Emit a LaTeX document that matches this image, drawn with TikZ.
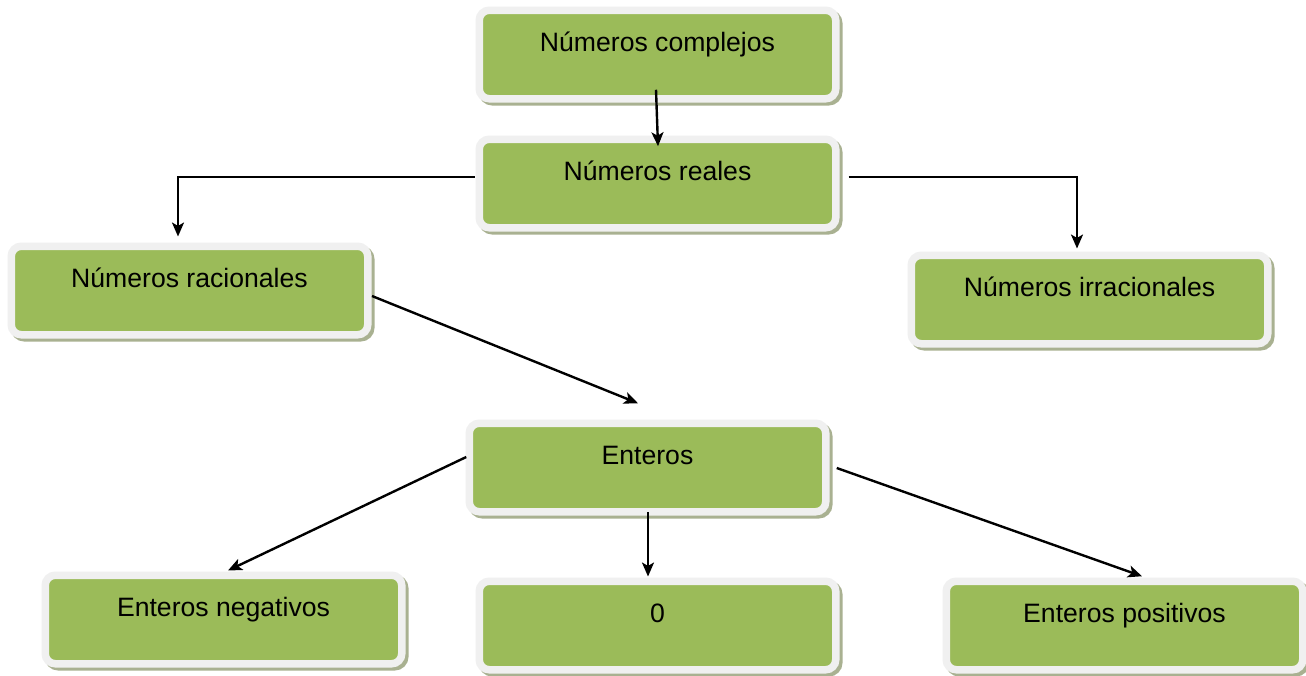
\documentclass[tikz,border=0pt]{standalone}
\usepackage{fontspec}
\setmainfont{Liberation Sans}
\usetikzlibrary{arrows.meta,calc,shadows}
\definecolor{boxgreen}{HTML}{9BBB59}
\definecolor{framegray}{HTML}{F0F0F0}
\definecolor{shadowcol}{HTML}{A9B191}
\tikzset{
  greenbox/.style={rectangle, rounded corners=10pt, fill=boxgreen, draw=framegray,
    line width=7.5pt, minimum width=356.5pt, inner sep=0pt,
    text height=41.25pt, text depth=47.25pt,
    font=\fontsize{26.6}{29}\selectfont,
    general shadow={draw=shadowcol, fill=shadowcol, line width=7.5pt,
      shadow xshift=3pt, shadow yshift=-3pt}},
  arr/.style={line width=2.4pt, -{Stealth[length=14pt,width=12pt,inset=3.5pt]}}
}
\begin{document}
\begin{tikzpicture}[x=1pt,y=-1pt]
\useasboundingbox[fill=white] (0,0) rectangle (1306,675);
\node[greenbox] (complejos) at (657.5,54.5) {Números complejos};
\node[greenbox] (reales) at (657.5,183.5) {Números reales};
\node[greenbox] (racionales) at (189.5,290.5) {Números racionales};
\node[greenbox] (irracionales) at (1089.5,299.5) {Números irracionales};
\node[greenbox] (enteros) at (647.5,467.5) {Enteros};
\node[greenbox] (negativos) at (223.5,619.5) {Enteros negativos};
\node[greenbox] (cero) at (657.5,625.5) {0};
\node[greenbox] (positivos) at (1124.5,625.5) {Enteros positivos};

\draw[arr] ($(complejos.south)+(-1.5,-12.75)$) -- ($(reales.north)+(0.5,10.75)$);
\draw[arr] ($(reales.west)+(-1,-6.5)$) -| ($(racionales.north)+(-11.5,-6)$);
\draw[arr] ($(reales.east)+(9,-6.5)$) -| ($(irracionales.north)+(-12.5,-3)$);
\draw[arr] ($(racionales.east)+(0.5,5.5)$) -- ($(enteros.north)+(-9.5,-16.25)$);
\draw[arr] ($(enteros.west)+(0.75,-10.5)$) -- ($(negativos.north)+(4.5,-1)$);
\draw[arr] ($(enteros.south)+(0.5,-3.75)$) -- ($(cero.north)+(-9.5,-1)$);
\draw[arr] ($(enteros.east)+(7.25,0.5)$) -- ($(positivos.north)+(17.5,-1.25)$);
\end{tikzpicture}
\end{document}
